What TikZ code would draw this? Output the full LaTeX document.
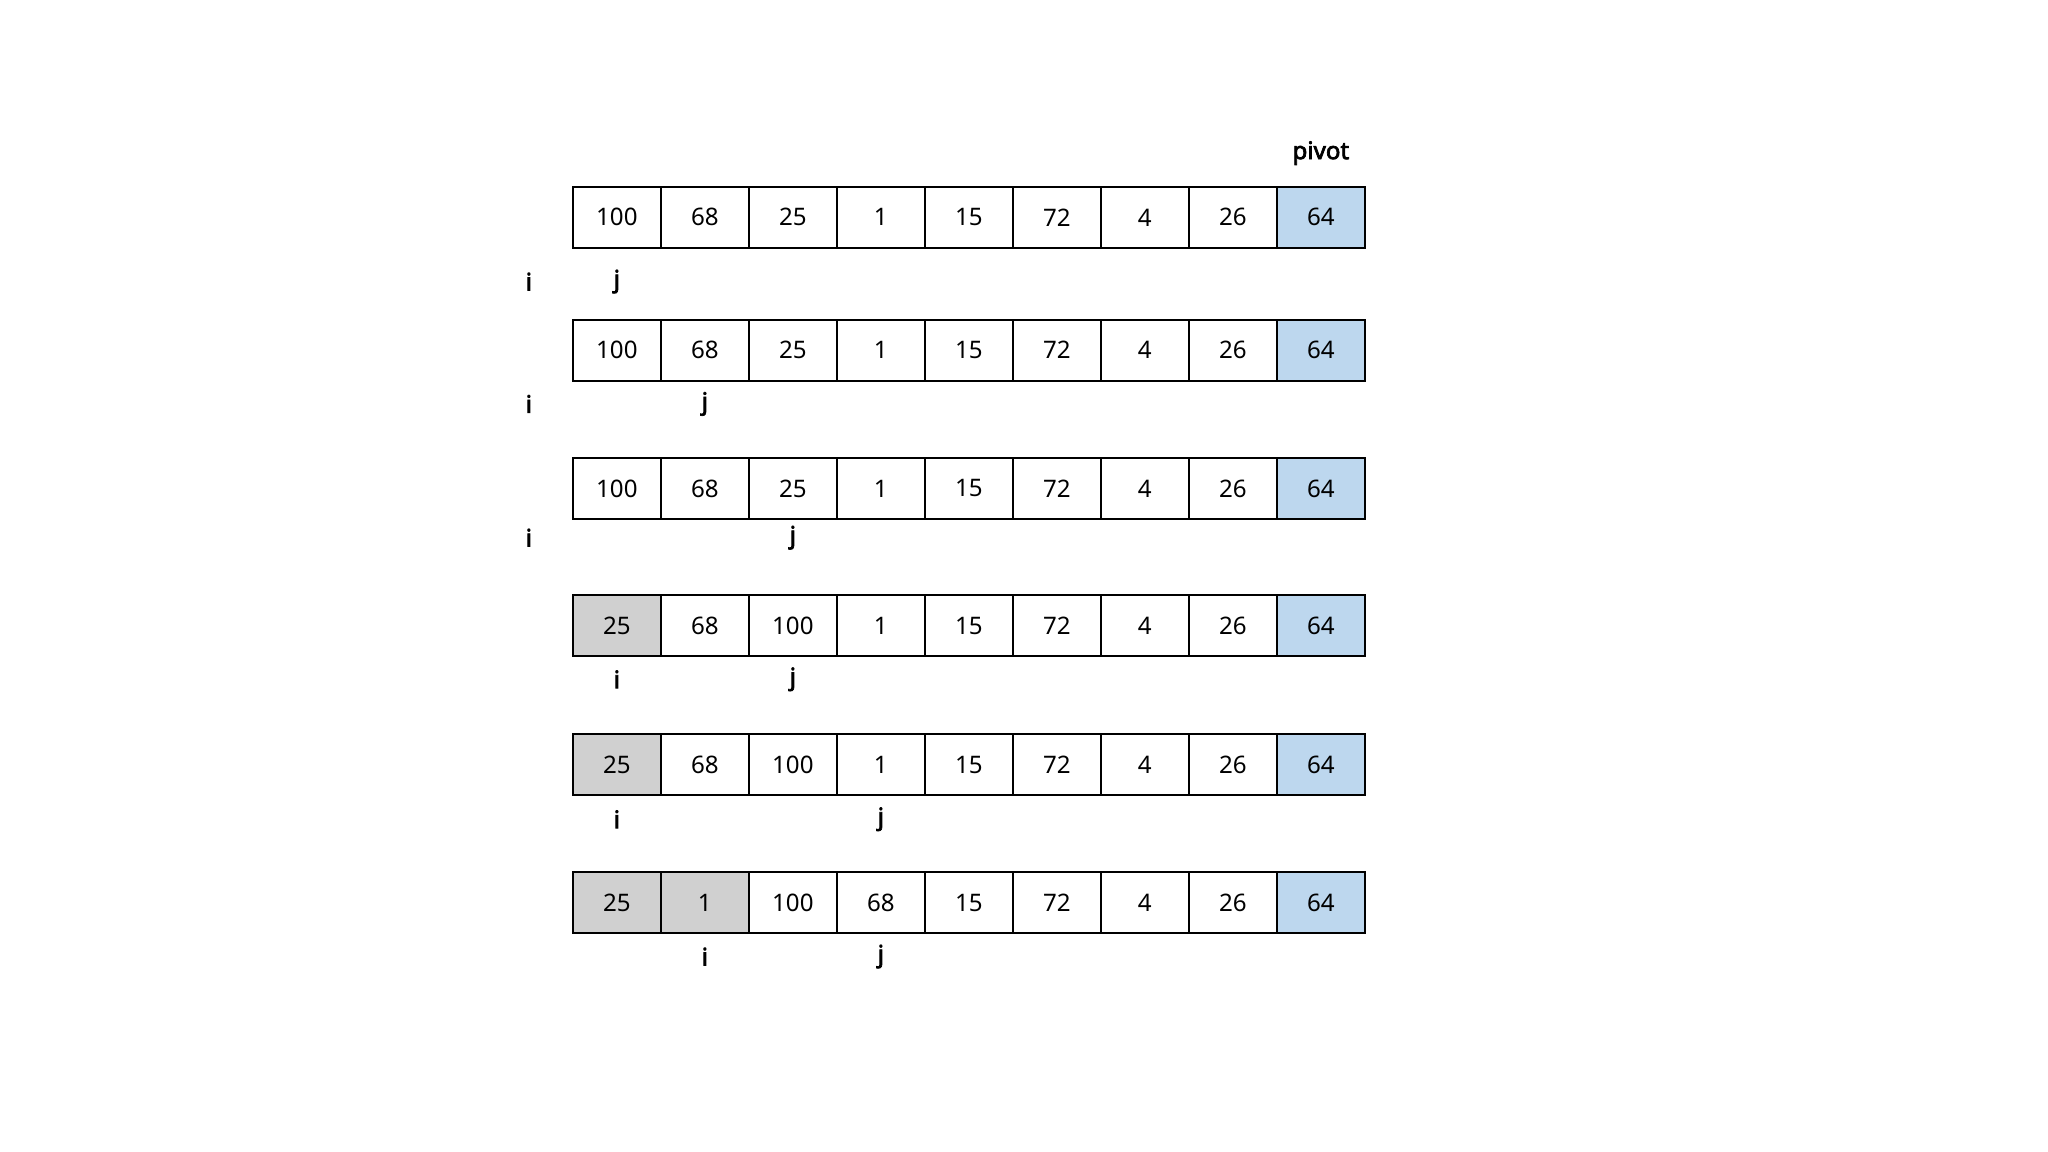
\documentclass[tikz,border=0pt]{standalone}
\usepackage{fontspec}
\setmainfont{Noto Sans}[BoldFont={Noto Sans}, BoldFeatures={FakeBold=3}]
\usetikzlibrary{positioning}
\definecolor{pivotblue}{HTML}{BDD7EE}
\definecolor{sortgray}{HTML}{D0D0D0}
\tikzset{
  cell/.style={draw, line width=0.7pt, minimum width=1cm, minimum height=0.693cm, inner sep=0pt, font=\fontsize{7.8}{9}\selectfont},
  ptr/.style={font=\fontsize{7.8}{9}\selectfont\bfseries, inner sep=0pt}
}

\begin{document}
\begin{tikzpicture}
        \useasboundingbox (0,0) rectangle (23.273,-13.091);
        %cells: row / y / values / number of gray cells
        \foreach \r/\y/\vals/\ng in {
            1/-2.47/{100,68,25,1,15,72,4,26,64}/0,
            2/-3.98/{100,68,25,1,15,72,4,26,64}/0,
            3/-5.55/{100,68,25,1,15,72,4,26,64}/0,
            4/-7.11/{25,68,100,1,15,72,4,26,64}/1,
            5/-8.69/{25,68,100,1,15,72,4,26,64}/1,
            6/-10.26/{25,1,100,68,15,72,4,26,64}/2} {
          \foreach \v [count=\k from 0] in \vals {
            \ifnum\k<\ng \def\col{sortgray}\else\ifnum\k=8 \def\col{pivotblue}\else\def\col{white}\fi\fi
            \node[cell, fill=\col] (r\r c\k) at (7.01+\k, \y) {\v};
          }
        }
        %pivot
        \node[ptr] (pivot) at (15.01, -1.74) {pivot};
        %pointers i and j: row / y / i cell / j cell
        \foreach \r/\y/\i/\j in {1/-3.20/-1/0, 2/-4.59/-1/1, 3/-6.11/-1/2,
                                 4/-7.72/0/2, 5/-9.31/0/3, 6/-10.87/1/3} {
          \node[ptr] (i\r) at (7.01+\i, \y) {i};
          \node[ptr] (j\r) at (7.01+\j, \y) {j};
        }
      \end{tikzpicture}
\end{document}
